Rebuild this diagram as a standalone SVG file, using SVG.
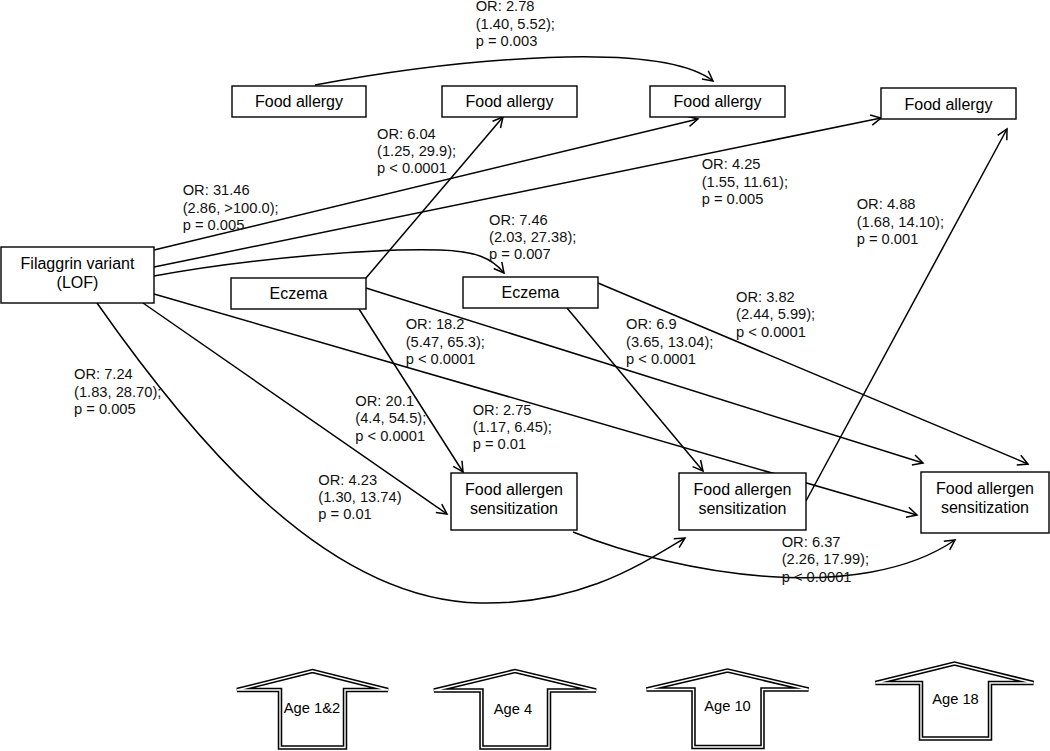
<svg xmlns="http://www.w3.org/2000/svg" width="1050" height="751" viewBox="0 0 1050 751">
<defs>
<style>
.box{fill:#fff;stroke:#000;stroke-width:1.4}
.nt{font-family:"Liberation Sans",Arial,sans-serif;font-size:16px;fill:#000;text-anchor:middle}
.lbl{font-family:"Liberation Sans",Arial,sans-serif;font-size:14.7px;fill:#111}
.c{fill:none;stroke:#000;stroke-width:1.5;marker-end:url(#ah)}
.ago{fill:#fff;stroke:#000;stroke-width:4.5;stroke-linejoin:miter;stroke-miterlimit:3}
.agi{fill:none;stroke:#fff;stroke-width:1.4;stroke-linejoin:miter;stroke-miterlimit:3}
.agt{font-family:"Liberation Sans",Arial,sans-serif;font-size:14.7px;fill:#000;text-anchor:middle}
</style>
<marker id="ah" markerUnits="userSpaceOnUse" markerWidth="14" markerHeight="14" refX="11" refY="7" orient="auto" overflow="visible">
<path d="M1,1.8 L11,7 L1,12.2" fill="none" stroke="#000" stroke-width="1.5"/>
</marker>
</defs>
<rect width="1050" height="751" fill="#fff"/>

<g id="connectors">
<path class="c" d="M315,85 C460,58 660,40 713,81"/>
<path class="c" d="M366,278 L503,117"/>
<path class="c" d="M154,250 L698,119"/>
<path class="c" d="M154,267 L881,118"/>
<path class="c" d="M154,276 C250,258 380,248 440,250 C475,251 492,258 504,273"/>
<path class="c" d="M359,309 L463,472"/>
<path class="c" d="M143,303 L447,514"/>
<path class="c" d="M97,303 C200,450 330,600 480,603 C580,605 640,565 685,538"/>
<path class="c" d="M154,294 L917,515"/>
<path class="c" d="M366,288 L923,463"/>
<path class="c" d="M567,308 L703,471"/>
<path class="c" d="M598,283 L1028,464"/>
<path class="c" d="M806,501 L1007,129"/>
<path class="c" d="M573,532 C680,575 860,605 955,540"/>
</g>

<g id="filaggrin">
<rect class="box" x="1" y="247" width="153" height="56"/>
<text class="nt" x="77.5" y="268.5">Filaggrin variant</text>
<text class="nt" x="77.5" y="287.5">(LOF)</text>
</g>
<g id="food-allergy-1">
<rect class="box" x="232" y="86" width="134" height="31"/>
<text class="nt" x="299" y="107.3">Food allergy</text>
</g>
<g id="food-allergy-2">
<rect class="box" x="442" y="86" width="135" height="31"/>
<text class="nt" x="509.5" y="107.3">Food allergy</text>
</g>
<g id="food-allergy-3">
<rect class="box" x="650" y="86" width="135" height="31"/>
<text class="nt" x="717.5" y="107.3">Food allergy</text>
</g>
<g id="food-allergy-4">
<rect class="box" x="881" y="88" width="135" height="31"/>
<text class="nt" x="948.5" y="109.8">Food allergy</text>
</g>
<g id="eczema-1">
<rect class="box" x="231" y="278" width="135" height="31"/>
<text class="nt" x="298.5" y="299">Eczema</text>
</g>
<g id="eczema-2">
<rect class="box" x="463" y="277" width="135" height="31"/>
<text class="nt" x="530.5" y="298">Eczema</text>
</g>
<g id="fas-1">
<rect class="box" x="451" y="473" width="126" height="57"/>
<text class="nt" x="514" y="495">Food allergen</text>
<text class="nt" x="514" y="513.5">sensitization</text>
</g>
<g id="fas-2">
<rect class="box" x="679" y="473" width="127" height="57"/>
<text class="nt" x="742.5" y="495">Food allergen</text>
<text class="nt" x="742.5" y="513.5">sensitization</text>
</g>
<g id="fas-3">
<rect class="box" x="921" y="472" width="128" height="61"/>
<text class="nt" x="985" y="493.5">Food allergen</text>
<text class="nt" x="985" y="512.5">sensitization</text>
</g>

<g id="labels">
<text class="lbl" x="475.7" y="11.3"><tspan x="475.7">OR: 2.78</tspan><tspan x="475.7" dy="17.4">(1.40, 5.52);</tspan><tspan x="475.7" dy="17.4">p = 0.003</tspan></text>
<text class="lbl" x="377" y="138.5"><tspan x="377">OR: 6.04</tspan><tspan x="377" dy="17.4">(1.25, 29.9);</tspan><tspan x="377" dy="17.4">p &lt; 0.0001</tspan></text>
<text class="lbl" x="182.7" y="195.3"><tspan x="182.7">OR: 31.46</tspan><tspan x="182.7" dy="17.4">(2.86, &gt;100.0);</tspan><tspan x="182.7" dy="17.4">p = 0.005</tspan></text>
<text class="lbl" x="701.7" y="169.3"><tspan x="701.7">OR: 4.25</tspan><tspan x="701.7" dy="17.4">(1.55, 11.61);</tspan><tspan x="701.7" dy="17.4">p = 0.005</tspan></text>
<text class="lbl" x="856.7" y="209.3"><tspan x="856.7">OR: 4.88</tspan><tspan x="856.7" dy="17.4">(1.68, 14.10);</tspan><tspan x="856.7" dy="17.4">p = 0.001</tspan></text>
<text class="lbl" x="489" y="224.6"><tspan x="489">OR: 7.46</tspan><tspan x="489" dy="17.4">(2.03, 27.38);</tspan><tspan x="489" dy="17.4">p = 0.007</tspan></text>
<text class="lbl" x="736" y="302"><tspan x="736">OR: 3.82</tspan><tspan x="736" dy="17.4">(2.44, 5.99);</tspan><tspan x="736" dy="17.4">p &lt; 0.0001</tspan></text>
<text class="lbl" x="405.7" y="329.3"><tspan x="405.7">OR: 18.2</tspan><tspan x="405.7" dy="17.4">(5.47, 65.3);</tspan><tspan x="405.7" dy="17.4">p &lt; 0.0001</tspan></text>
<text class="lbl" x="626" y="329.3"><tspan x="626">OR: 6.9</tspan><tspan x="626" dy="17.4">(3.65, 13.04);</tspan><tspan x="626" dy="17.4">p &lt; 0.0001</tspan></text>
<text class="lbl" x="74" y="379.3"><tspan x="74">OR: 7.24</tspan><tspan x="74" dy="17.4">(1.83, 28.70);</tspan><tspan x="74" dy="17.4">p = 0.005</tspan></text>
<text class="lbl" x="355.3" y="406"><tspan x="355.3">OR: 20.1</tspan><tspan x="355.3" dy="17.4">(4.4, 54.5);</tspan><tspan x="355.3" dy="17.4">p &lt; 0.0001</tspan></text>
<text class="lbl" x="472.7" y="414.6"><tspan x="472.7">OR: 2.75</tspan><tspan x="472.7" dy="17.4">(1.17, 6.45);</tspan><tspan x="472.7" dy="17.4">p = 0.01</tspan></text>
<text class="lbl" x="318.3" y="484.6"><tspan x="318.3">OR: 4.23</tspan><tspan x="318.3" dy="17.4">(1.30, 13.74)</tspan><tspan x="318.3" dy="17.4">p = 0.01</tspan></text>
<text class="lbl" x="781.7" y="547"><tspan x="781.7">OR: 6.37</tspan><tspan x="781.7" dy="17.4">(2.26, 17.99);</tspan><tspan x="781.7" dy="17.4">p &lt; 0.0001</tspan></text>
</g>

<g id="age-1-2">
<path class="ago" d="M237,690 L312.5,671 L388,690 L345,690 L345,747.5 L280,747.5 L280,690 Z"/>
<path class="agi" d="M237,690 L312.5,671 L388,690 L345,690 L345,747.5 L280,747.5 L280,690 Z"/>
<text class="agt" x="312" y="712.6">Age 1&amp;2</text>
</g>
<g id="age-4">
<path class="ago" d="M434,690.5 L515,671 L596,690.5 L549,690.5 L549,747.5 L481.5,747.5 L481.5,690.5 Z"/>
<path class="agi" d="M434,690.5 L515,671 L596,690.5 L549,690.5 L549,747.5 L481.5,747.5 L481.5,690.5 Z"/>
<text class="agt" x="513" y="713.6">Age 4</text>
</g>
<g id="age-10">
<path class="ago" d="M646.5,689.5 L727.5,670.5 L808.5,689.5 L762.5,689.5 L762.5,747 L693.5,747 L693.5,689.5 Z"/>
<path class="agi" d="M646.5,689.5 L727.5,670.5 L808.5,689.5 L762.5,689.5 L762.5,747 L693.5,747 L693.5,689.5 Z"/>
<text class="agt" x="727.5" y="711.3">Age 10</text>
</g>
<g id="age-18">
<path class="ago" d="M875.5,683 L954.5,663.5 L1033.5,683 L990,683 L990,738.5 L921,738.5 L921,683 Z"/>
<path class="agi" d="M875.5,683 L954.5,663.5 L1033.5,683 L990,683 L990,738.5 L921,738.5 L921,683 Z"/>
<text class="agt" x="955.5" y="704.3">Age 18</text>
</g>
</svg>
